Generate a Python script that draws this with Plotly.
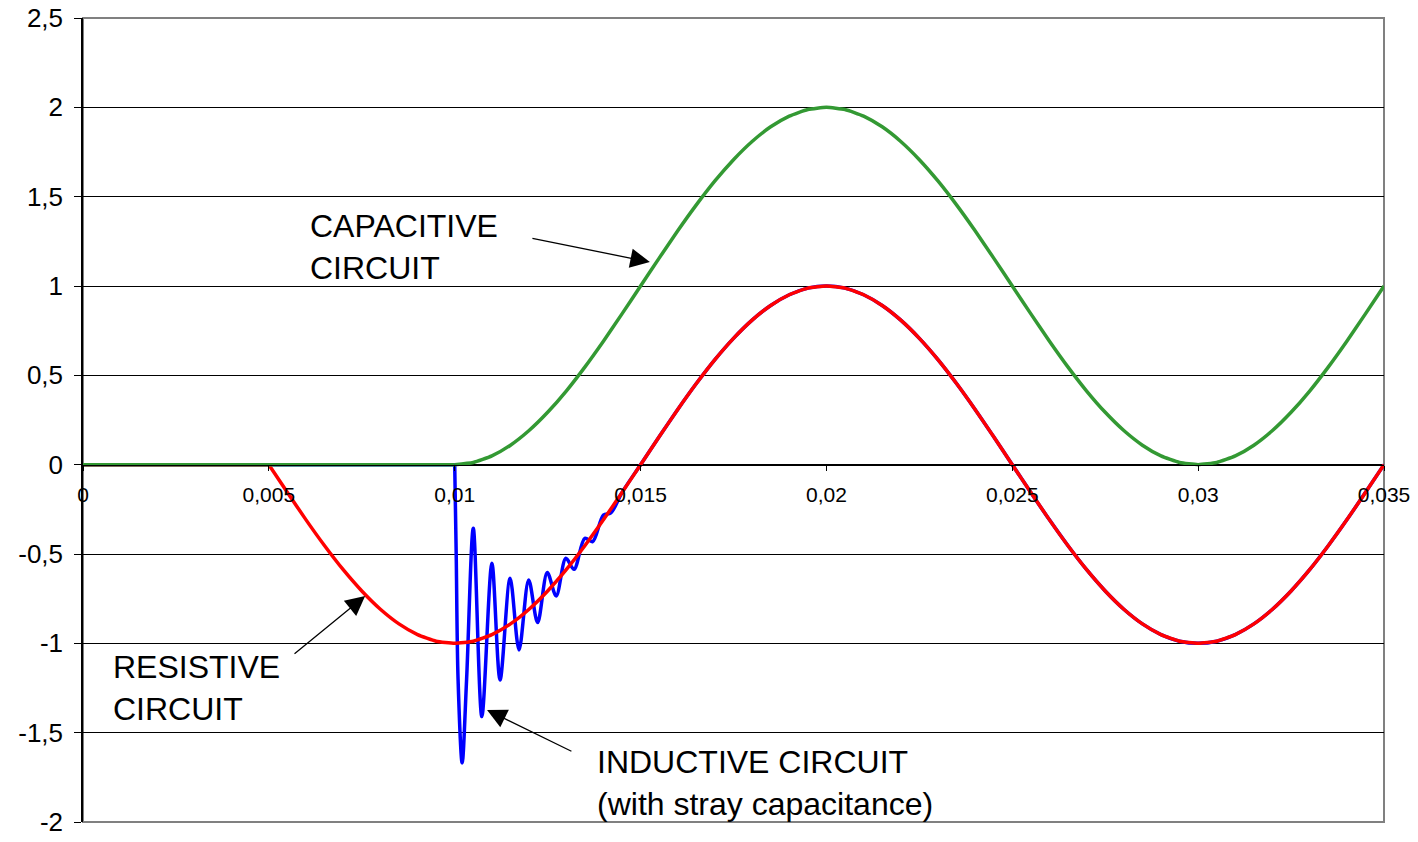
import plotly.graph_objects as go

# ---------------- data ----------------
time_s = [0.0, 0.0005, 0.001, 0.0015, 0.002, 0.0025, 0.003, 0.0035, 0.004, 0.0045,
          0.005, 0.0055, 0.006, 0.0065, 0.007, 0.0075, 0.008, 0.0085, 0.009, 0.0095,
          0.01, 0.0105, 0.011, 0.0115, 0.012, 0.0125, 0.013, 0.0135, 0.014, 0.0145,
          0.015, 0.0155, 0.016, 0.0165, 0.017, 0.0175, 0.018, 0.0185, 0.019, 0.0195,
          0.02, 0.0205, 0.021, 0.0215, 0.022, 0.0225, 0.023, 0.0235, 0.024, 0.0245,
          0.025, 0.0255, 0.026, 0.0265, 0.027, 0.0275, 0.028, 0.0285, 0.029, 0.0295,
          0.03, 0.0305, 0.031, 0.0315, 0.032, 0.0325, 0.033, 0.0335, 0.034, 0.0345,
          0.035]

resistive = [0, 0, 0, 0, 0, 0, 0, 0, 0, 0,
             0, -0.156, -0.309, -0.454, -0.588, -0.707, -0.809, -0.891, -0.951, -0.988,
             -1, -0.988, -0.951, -0.891, -0.809, -0.707, -0.588, -0.454, -0.309, -0.156,
             0, 0.156, 0.309, 0.454, 0.588, 0.707, 0.809, 0.891, 0.951, 0.988,
             1, 0.988, 0.951, 0.891, 0.809, 0.707, 0.588, 0.454, 0.309, 0.156,
             0, -0.156, -0.309, -0.454, -0.588, -0.707, -0.809, -0.891, -0.951, -0.988,
             -1, -0.988, -0.951, -0.891, -0.809, -0.707, -0.588, -0.454, -0.309, -0.156,
             0]

capacitive = [0, 0, 0, 0, 0, 0, 0, 0, 0, 0,
              0, 0, 0, 0, 0, 0, 0, 0, 0, 0,
              0, 0.012, 0.049, 0.109, 0.191, 0.293, 0.412, 0.546, 0.691, 0.844,
              1, 1.156, 1.309, 1.454, 1.588, 1.707, 1.809, 1.891, 1.951, 1.988,
              2, 1.988, 1.951, 1.891, 1.809, 1.707, 1.588, 1.454, 1.309, 1.156,
              1, 0.844, 0.691, 0.546, 0.412, 0.293, 0.191, 0.109, 0.049, 0.012,
              0, 0.012, 0.049, 0.109, 0.191, 0.293, 0.412, 0.546, 0.691, 0.844,
              1]

inductive_time = [0.0, 0.01, 0.01004, 0.01009, 0.0102, 0.01032, 0.0105, 0.01073, 0.011, 0.01122,
                  0.01149, 0.01173, 0.01199, 0.01223, 0.01249, 0.01273, 0.01299,
                  0.01321, 0.0135, 0.01371, 0.014, 0.0142, 0.0145,
                  0.015, 0.0155, 0.016, 0.0165, 0.017, 0.0175, 0.018, 0.0185, 0.019, 0.0195,
                  0.02, 0.0205, 0.021, 0.0215, 0.022, 0.0225, 0.023, 0.0235, 0.024, 0.0245,
                  0.025, 0.0255, 0.026, 0.0265, 0.027, 0.0275, 0.028, 0.0285, 0.029, 0.0295,
                  0.03, 0.0305, 0.031, 0.0315, 0.032, 0.0325, 0.033, 0.0335, 0.034, 0.0345,
                  0.035]
inductive = [0, 0, -0.5, -1.2, -1.67, -1.2, -0.356, -1.41, -0.552, -1.205,
             -0.636, -1.037, -0.645, -0.884, -0.604, -0.735, -0.524,
             -0.586, -0.412, -0.431, -0.282, -0.27, -0.156,
             0, 0.156, 0.309, 0.454, 0.588, 0.707, 0.809, 0.891, 0.951, 0.988,
             1, 0.988, 0.951, 0.891, 0.809, 0.707, 0.588, 0.454, 0.309, 0.156,
             0, -0.156, -0.309, -0.454, -0.588, -0.707, -0.809, -0.891, -0.951, -0.988,
             -1, -0.988, -0.951, -0.891, -0.809, -0.707, -0.588, -0.454, -0.309, -0.156,
             0]

x_tick_vals = [0, 0.005, 0.01, 0.015, 0.02, 0.025, 0.03, 0.035]
x_tick_text = ["0", "0,005", "0,01", "0,015", "0,02", "0,025", "0,03", "0,035"]
y_tick_vals = [-2, -1.5, -1, -0.5, 0, 0.5, 1, 1.5, 2, 2.5]
y_tick_text = ["-2", "-1,5", "-1", "-0,5", "0", "0,5", "1", "1,5", "2", "2,5"]

labels = ["CAPACITIVE<br>CIRCUIT", "RESISTIVE<br>CIRCUIT",
          "INDUCTIVE CIRCUIT<br>(with stray capacitance)"]

# ---------------- figure ----------------
FONT = "Liberation Sans, Arial, sans-serif"
fig = go.Figure()


def add_series(t, v, color, start, smoothing):
    # flat (pre-switching) part drawn straight, the waveform part smoothed
    fig.add_trace(go.Scatter(x=t[:start + 1], y=v[:start + 1], mode="lines",
                             line=dict(color=color, width=3.5), hoverinfo="skip"))
    fig.add_trace(go.Scatter(x=t[start:], y=v[start:], mode="lines",
                             line=dict(color=color, width=3.5, shape="spline",
                                       smoothing=smoothing), hoverinfo="skip"))


add_series(inductive_time, inductive, "#0000FF", 1, 0.9)
add_series(time_s, resistive, "#FF0000", 10, 0.5)
add_series(time_s, capacitive, "#339933", 20, 0.5)

ann = []
TF = dict(size=32, family=FONT, color="black")
ann.append(dict(x=0.00606, y=1.22, text=labels[0], xanchor="left", yanchor="middle",
                align="left", showarrow=False, font=TF))
ann.append(dict(x=0.00076, y=-1.252, text=labels[1], xanchor="left", yanchor="middle",
                align="left", showarrow=False, font=TF))
ann.append(dict(x=0.01378, y=-1.78, text=labels[2], xanchor="left", yanchor="middle",
                align="left", showarrow=False, font=TF))
for (hx, hy, tx, ty) in [(0.01525, 1.134, 0.01205, 1.268),
                         (0.00759, -0.735, 0.00565, -1.065),
                         (0.01087, -1.373, 0.01318, -1.608)]:
    ann.append(dict(x=hx, y=hy, ax=tx, ay=ty, xref="x", yref="y", axref="x", ayref="y",
                    text="", showarrow=True, arrowhead=2, arrowsize=3, arrowwidth=1.3,
                    arrowcolor="black"))

fig.update_layout(
    width=1418, height=842,
    margin=dict(l=83, r=34, t=18, b=20, autoexpand=False),
    paper_bgcolor="white", plot_bgcolor="white",
    showlegend=False,
    font=dict(family=FONT, color="black"),
    annotations=ann,
    shapes=[dict(type="rect", xref="paper", yref="paper", x0=0, y0=0, x1=1, y1=1,
                 line=dict(color="#808080", width=2), layer="below")],
)
fig.update_xaxes(range=[0, 0.035], tickvals=x_tick_vals, ticktext=x_tick_text,
                 showgrid=False, zeroline=False, showline=True, linecolor="black",
                 linewidth=1, ticks="outside", ticklen=5, tickcolor="black",
                 tickfont=dict(size=21, family=FONT, color="black"),
                 anchor="free", position=2 / 4.5, automargin=False,
                 ticklabeloverflow="allow", ticklabelstandoff=6)
fig.update_yaxes(range=[-2, 2.5], tickvals=y_tick_vals, ticktext=y_tick_text,
                 showgrid=True, gridcolor="black", gridwidth=1, zeroline=False,
                 showline=True, linecolor="black", linewidth=1.5, ticks="outside",
                 ticklen=7, tickcolor="black", automargin=False,
                 ticklabeloverflow="allow", ticklabelstandoff=6,
                 tickfont=dict(size=26, family=FONT, color="black"))

fig.write_html("out.html", config={"displayModeBar": False},
               post_script="document.body.style.margin='0';document.body.style.padding='0';")
